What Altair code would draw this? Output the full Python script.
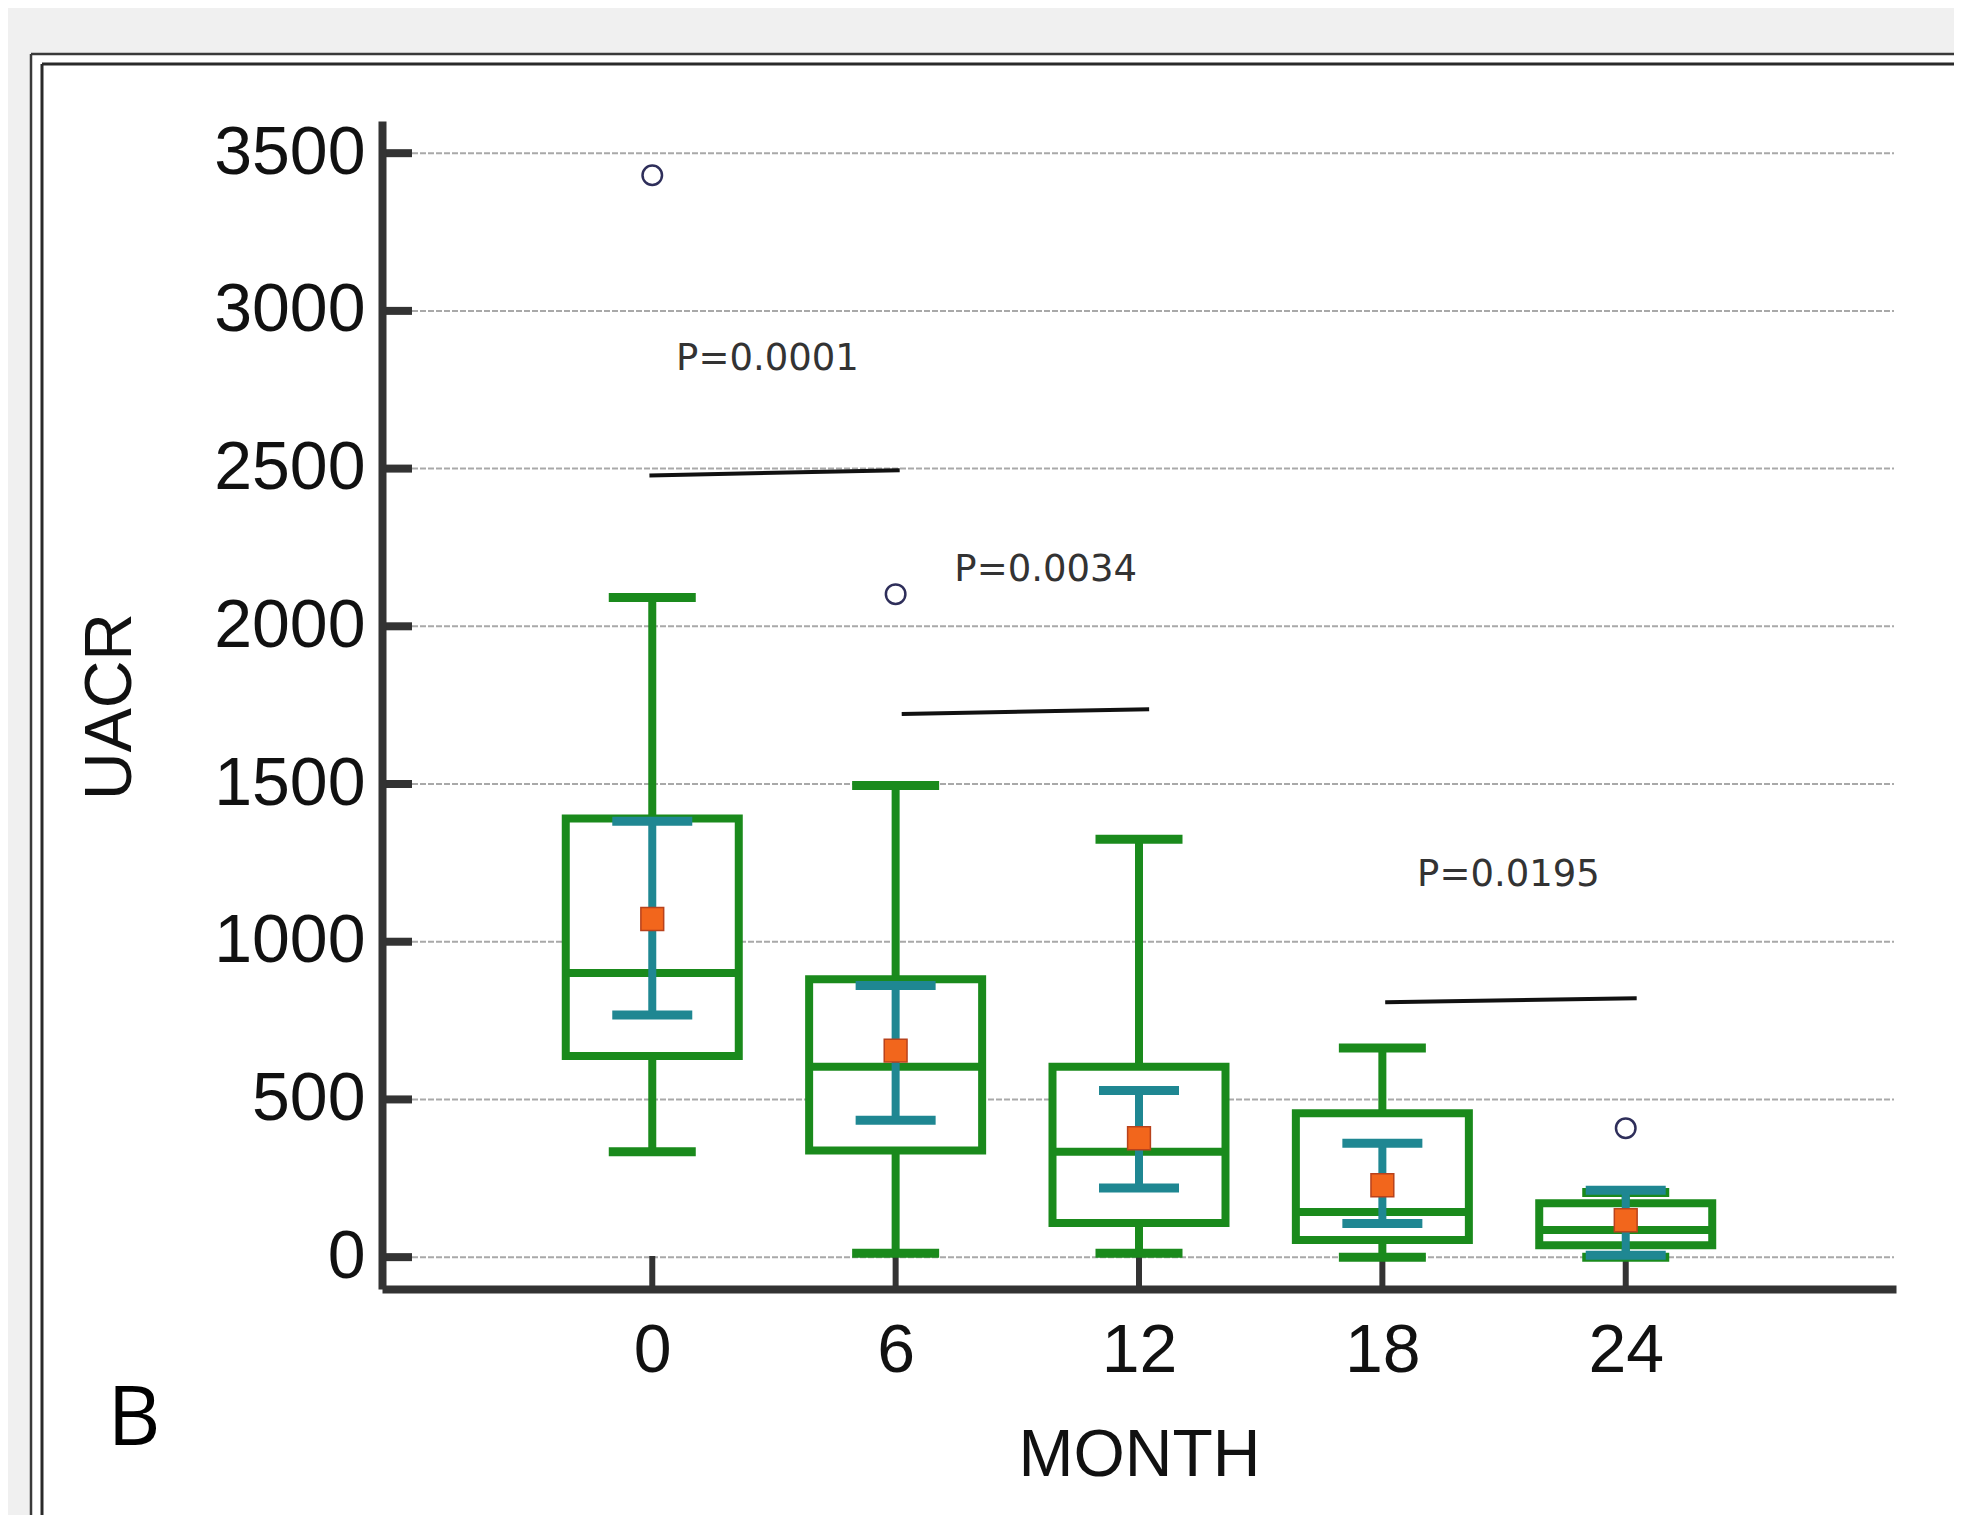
import altair as alt
import pandas as pd

# ---------------- data ----------------
months = [0, 6, 12, 18, 24]
whisker_low = [334, 12, 12, 0, 0]
q1 = [638, 338, 108, 54, 38]
median = [901, 604, 334, 143, 86]
q3 = [1391, 881, 604, 456, 171]
whisker_high = [2091, 1495, 1325, 663, 205]
mean = [1072, 655, 377, 228, 117]
ci_low = [768, 434, 219, 107, 6]
ci_high = [1382, 861, 528, 361, 212]

outlier_month = [0, 6, 24]
outlier_value = [3430, 2102, 409]

sig_x_start = [-0.07, 6.15, 18.07]
sig_x_end = [6.10, 12.25, 24.27]
sig_y_start = [2478, 1722, 808]
sig_y_end = [2495, 1737, 821]

p_labels = ["P=0.0001", "P=0.0034", "P=0.0195"]
p_x = [2.84, 9.70, 21.11]
p_y = [2847, 2178, 1211]

y_ticks = [0, 500, 1000, 1500, 2000, 2500, 3000, 3500]
x_ticks = [0, 6, 12, 18, 24]

# ---------------- tables ----------------
box = pd.DataFrame(dict(month=months, lo=whisker_low, q1=q1, med=median, q3=q3,
                        hi=whisker_high, mean=mean, cil=ci_low, cih=ci_high))
outl = pd.DataFrame(dict(month=outlier_month, value=outlier_value))
sig = pd.DataFrame(dict(x1=sig_x_start, x2=sig_x_end, y1=sig_y_start, y2=sig_y_end))
ptxt = pd.DataFrame(dict(label=p_labels, x=p_x, y=p_y))
grid = pd.DataFrame(dict(v=y_ticks))
xt = pd.DataFrame(dict(m=x_ticks))
one = pd.DataFrame(dict(k=[0]))

W, H = 1514, 1168
GREEN = "#1a8a1c"
TEAL = "#1f8792"
ORANGE = "#f2661c"
DARK = "#333333"

xscale = alt.Scale(domain=[-6.54, 30.54], nice=False, zero=False)
yscale = alt.Scale(domain=[-101, 3602], nice=False, zero=False)

xaxis = alt.Axis(values=x_ticks, labelPadding=28, title="MONTH", titleY=186,
                 titleBaseline="alphabetic", zindex=1)
yaxis = alt.Axis(values=y_ticks, format="d", labelPadding=17, title="UACR", titleAngle=270,
                 titleX=-252, titleY=585, titleAlign="center",
                 titleBaseline="alphabetic", zindex=1)


def X(f):
    return alt.X(f, type="quantitative", scale=xscale, axis=xaxis, title="MONTH")


def Y(f):
    return alt.Y(f, type="quantitative", scale=yscale, axis=yaxis, title="UACR")


# ---------------- decoration frame (white panel + two border lines) ----------------
panel_bg = alt.Chart(one).mark_rect(fill="white", strokeWidth=0).encode(
    x=alt.value(-351), y=alt.value(-67), x2=alt.value(W + 400), y2=alt.value(H + 600))
frame_lines = []
for off, voff, col, sw in [(-351, -67, "#3a3a3a", 2.5), (-340, -57, "#2a2a2a", 3)]:
    frame_lines.append(alt.Chart(one).mark_rule(color=col, strokeWidth=sw).encode(
        x=alt.value(off), x2=alt.value(W + 400), y=alt.value(voff)))
    frame_lines.append(alt.Chart(one).mark_rule(color=col, strokeWidth=sw).encode(
        x=alt.value(off), y=alt.value(voff), y2=alt.value(H + 600)))

# ---------------- grid + ticks ----------------
gridlines = alt.Chart(grid).mark_rule(color="#a9a9a9", strokeWidth=2, strokeDash=[6, 2]).encode(
    y=Y("v"), x=alt.value(30), x2=alt.value(W - 2))
yticks = alt.Chart(grid).mark_rule(color=DARK, strokeWidth=8).encode(
    y=Y("v"), x=alt.value(0), x2=alt.value(30))
xticks = alt.Chart(xt).mark_rule(color=DARK, strokeWidth=6).encode(
    x=X("m"), y=alt.value(H), y2=alt.value(H - 33))

# ---------------- box plots ----------------
base = alt.Chart(box)
whisk = base.mark_rule(color=GREEN, strokeWidth=8).encode(x=X("month"), y=Y("lo"), y2="hi")
boxes = base.mark_bar(size=173, fill="white", stroke=GREEN, strokeWidth=8, opacity=1).encode(
    x=X("month"), y=Y("q1"), y2="q3")
meds = base.mark_tick(orient="horizontal", size=175, thickness=8, color=GREEN, opacity=1).encode(
    x=X("month"), y=Y("med"))
cap_lo = base.mark_tick(orient="horizontal", size=87, thickness=9, color=GREEN, opacity=1).encode(
    x=X("month"), y=Y("lo"))
cap_hi = base.mark_tick(orient="horizontal", size=87, thickness=9, color=GREEN, opacity=1).encode(
    x=X("month"), y=Y("hi"))

ci = base.mark_rule(color=TEAL, strokeWidth=8).encode(x=X("month"), y=Y("cil"), y2="cih")
ci_lo = base.mark_tick(orient="horizontal", size=80, thickness=9, color=TEAL, opacity=1).encode(
    x=X("month"), y=Y("cil"))
ci_hi = base.mark_tick(orient="horizontal", size=80, thickness=9, color=TEAL, opacity=1).encode(
    x=X("month"), y=Y("cih"))
means = base.mark_square(size=520, fill=ORANGE, stroke="#b8421c", strokeWidth=1.5, opacity=1).encode(
    x=X("month"), y=Y("mean"))

outliers = alt.Chart(outl).mark_point(shape="circle", size=380, filled=False,
                                      stroke="#2e2e5a", strokeWidth=2.5, opacity=1).encode(
    x=X("month"), y=Y("value"))

# ---------------- significance annotations ----------------
siglines = alt.Chart(sig).mark_rule(color="#111111", strokeWidth=4).encode(
    x=X("x1"), x2="x2", y=Y("y1"), y2="y2")
ptexts = alt.Chart(ptxt).mark_text(font="DejaVu Sans", fontSize=37, color="#333333",
                                   align="center", baseline="middle").encode(
    x=X("x"), y=Y("y"), text="label")

panel_letter = alt.Chart(one).mark_text(font="Open Sans", fontSize=82, color="#000000",
                                        align="center", baseline="alphabetic").encode(
    x=alt.value(-248), y=alt.value(1324), text=alt.value("B"))

chart = alt.layer(
    panel_bg, *frame_lines, gridlines, yticks, xticks,
    whisk, boxes, meds, cap_lo, cap_hi,
    ci, ci_lo, ci_hi, means, outliers,
    siglines, ptexts, panel_letter,
).properties(
    width=W, height=H,
    padding={"left": 374, "top": 113, "right": 58, "bottom": 226},
    autosize=alt.AutoSizeParams(type="none"),
    background="#f0f0f0",
).configure_view(
    stroke=None
).configure_axis(
    labelFont="Liberation Sans", labelFontSize=68, labelColor="#111111",
    titleFont="Liberation Sans", titleFontSize=66, titleFontWeight="normal", titleColor="#111111",
    domainColor=DARK, domainWidth=8, ticks=False, grid=False,
)

chart.save("out.html", embed_options={"renderer": "svg", "actions": False})
